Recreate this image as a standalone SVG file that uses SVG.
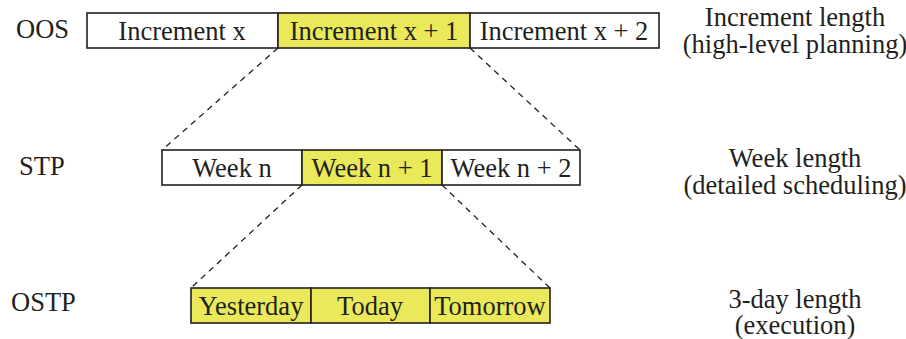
<svg xmlns="http://www.w3.org/2000/svg" width="906" height="339" viewBox="0 0 906 339">
<style>
text{font-family:"Liberation Serif","Times New Roman",serif;font-size:26.5px;fill:#231f20}
.c{text-anchor:middle}
.w{fill:#fff;stroke:#231f20;stroke-width:1.6}
.y{fill:#e9e95a;stroke:#231f20;stroke-width:1.6}
.d{stroke:#231f20;stroke-width:1.3;stroke-dasharray:6,5;fill:none}
</style>
<rect width="906" height="339" fill="#fff"/>
<g id="connectors">
<line class="d" x1="278" y1="48" x2="162" y2="150"/>
<line class="d" x1="470" y1="48" x2="580" y2="150"/>
<line class="d" x1="302" y1="185" x2="191" y2="288"/>
<line class="d" x1="442" y1="185" x2="550" y2="288"/>
</g>
<g id="labels">
<text x="16" y="38">OOS</text>
<text x="19" y="175">STP</text>
<text x="11" y="311">OSTP</text>
<text class="c" x="795" y="26">Increment length</text>
<text class="c" x="795" y="53">(high-level planning)</text>
<text class="c" x="795" y="167">Week length</text>
<text class="c" x="795" y="194">(detailed scheduling)</text>
<text class="c" x="795" y="308">3-day length</text>
<text class="c" x="795" y="334">(execution)</text>
</g>
<g id="inc-x"><rect class="w" x="87" y="13" width="191" height="35"/><text class="c" x="182" y="40">Increment x</text></g>
<g id="inc-x1"><rect class="y" x="278" y="13" width="192" height="35"/><text class="c" x="374" y="40">Increment x + 1</text></g>
<g id="inc-x2"><rect class="w" x="470" y="13" width="189" height="35"/><text class="c" x="564" y="40">Increment x + 2</text></g>
<g id="week-n"><rect class="w" x="162" y="150" width="140" height="35"/><text class="c" x="232" y="177">Week n</text></g>
<g id="week-n1"><rect class="y" x="302" y="150" width="140" height="35"/><text class="c" x="372" y="177">Week n + 1</text></g>
<g id="week-n2"><rect class="w" x="442" y="150" width="138" height="35"/><text class="c" x="511" y="177">Week n + 2</text></g>
<g id="yesterday"><rect class="y" x="191" y="288" width="120" height="35"/><text class="c" x="251" y="315">Yesterday</text></g>
<g id="today"><rect class="y" x="311" y="288" width="119" height="35"/><text class="c" x="370" y="315">Today</text></g>
<g id="tomorrow"><rect class="y" x="430" y="288" width="120" height="35"/><text class="c" x="490" y="315">Tomorrow</text></g>
</svg>
